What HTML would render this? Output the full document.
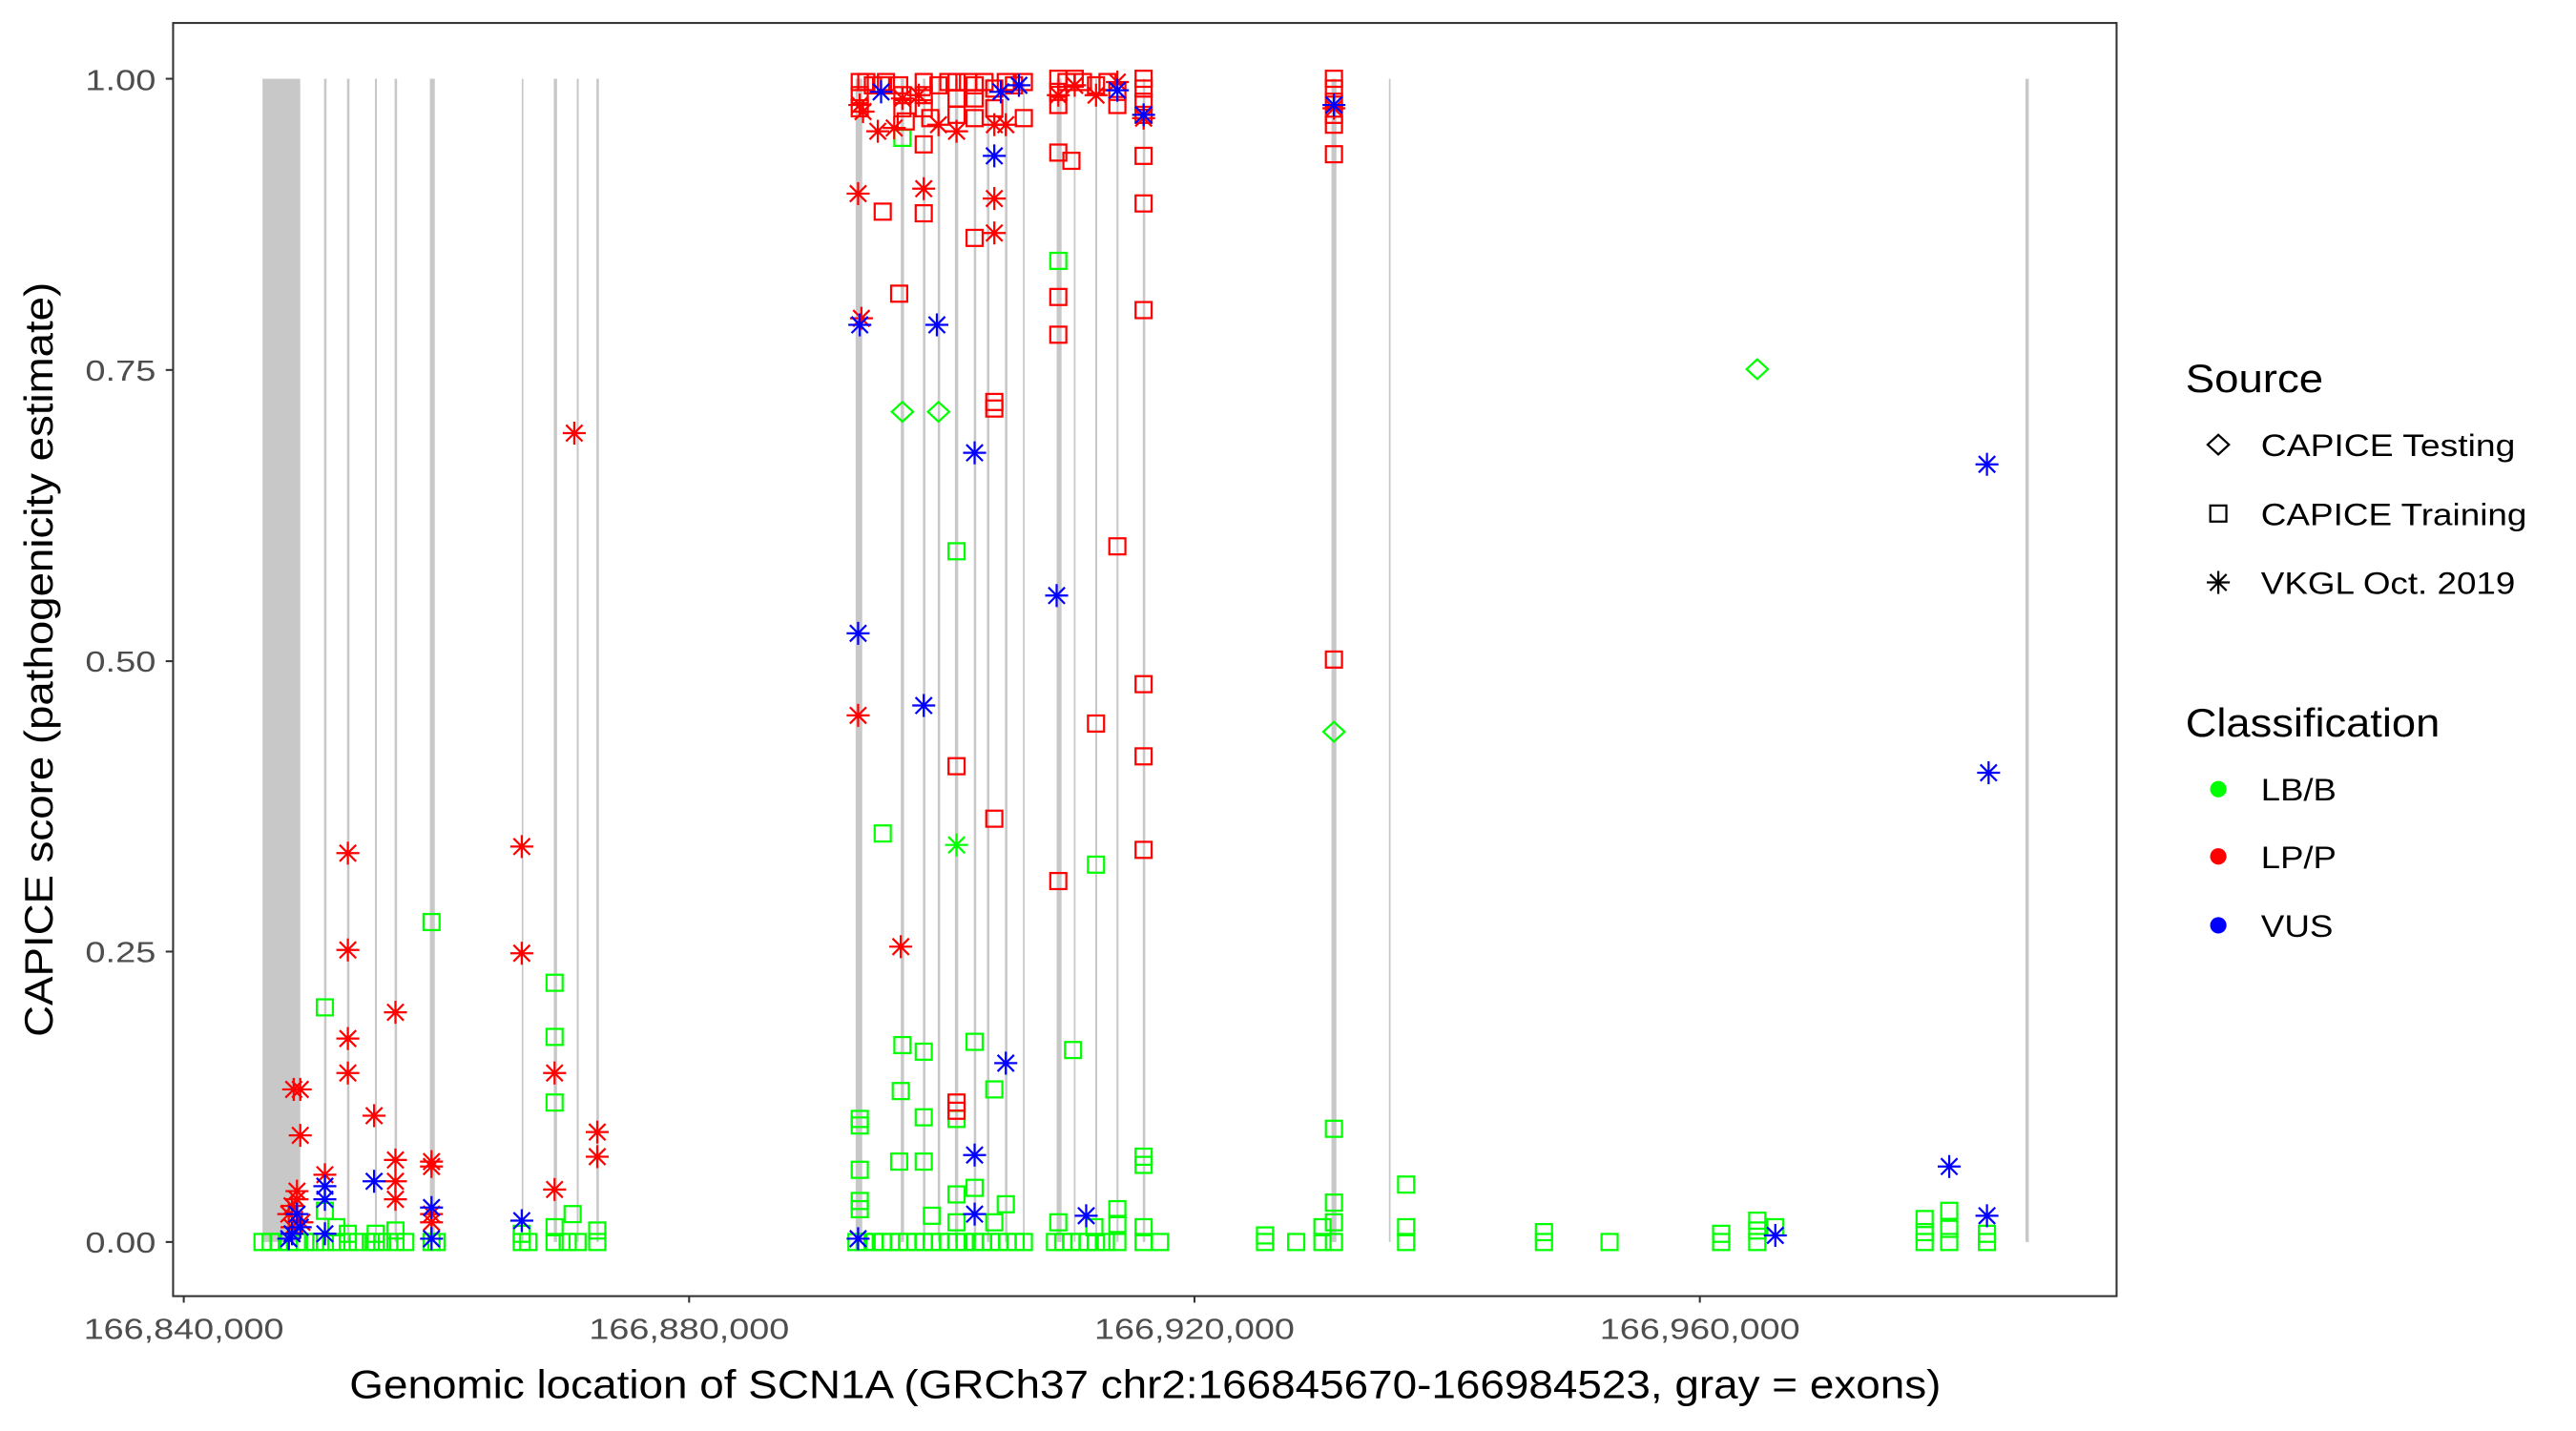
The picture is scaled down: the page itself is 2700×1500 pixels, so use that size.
<!DOCTYPE html>
<html><head><meta charset="utf-8"><style>
html,body{margin:0;padding:0;background:#fff}
svg{display:block}
text{font-family:"Liberation Sans",Arial,sans-serif}
</style></head><body>
<svg width="2700" height="1500" viewBox="0 0 1570 872.2" preserveAspectRatio="none" xmlns="http://www.w3.org/2000/svg">
<defs>
<rect id="s" x="-4.9" y="-4.9" width="9.8" height="9.8" fill="none" stroke="currentColor" stroke-width="1.3"/>
<g id="a" stroke="currentColor" stroke-width="1.3"><line x1="-7" y1="0" x2="7" y2="0"/><line x1="0" y1="-7" x2="0" y2="7"/><line x1="-5" y1="-5" x2="5" y2="5"/><line x1="-5" y1="5" x2="5" y2="-5"/></g>
<path id="d" d="M-6.5 0L0-6L6.5 0L0 6Z" fill="none" stroke="currentColor" stroke-width="1.3"/>
</defs>
<rect x="0" y="0" width="1570" height="872.2" fill="#fff"/>
<g fill="#c8c8c8">
<rect x="160" y="48" width="23" height="709"/>
<rect x="197.5" y="48" width="1.5" height="709"/>
<rect x="211.5" y="48" width="1.5" height="709"/>
<rect x="228.5" y="48" width="1.2" height="709"/>
<rect x="240.5" y="48" width="1.5" height="709"/>
<rect x="262" y="48" width="3" height="709"/>
<rect x="318" y="48" width="1" height="709"/>
<rect x="337.5" y="48" width="2" height="709"/>
<rect x="351.5" y="48" width="1.2" height="709"/>
<rect x="363.5" y="48" width="1.5" height="709"/>
<rect x="521.5" y="48" width="4" height="709"/>
<rect x="549" y="48" width="2" height="709"/>
<rect x="562.5" y="48" width="1.5" height="709"/>
<rect x="571.5" y="48" width="1.5" height="709"/>
<rect x="582" y="48" width="2" height="709"/>
<rect x="593.5" y="48" width="1.5" height="709"/>
<rect x="601.5" y="48" width="1.5" height="709"/>
<rect x="612.5" y="48" width="1.5" height="709"/>
<rect x="623.5" y="48" width="1" height="709"/>
<rect x="644" y="48" width="3" height="709"/>
<rect x="654.5" y="48" width="1" height="709"/>
<rect x="667.5" y="48" width="1.2" height="709"/>
<rect x="680.5" y="48" width="1.2" height="709"/>
<rect x="696.5" y="48" width="1.5" height="709"/>
<rect x="811.5" y="48" width="3" height="709"/>
<rect x="846.5" y="48" width="1" height="709"/>
<rect x="1234.5" y="48" width="2" height="709"/>
</g>
<g color="#00ff00">
<use href="#s" x="160" y="757"/><use href="#s" x="165" y="757"/><use href="#s" x="170" y="757"/><use href="#s" x="176" y="757"/><use href="#s" x="181" y="757"/><use href="#s" x="186" y="757"/><use href="#s" x="192" y="757"/><use href="#s" x="198" y="757"/><use href="#s" x="205" y="757"/><use href="#s" x="212" y="757"/><use href="#s" x="218" y="757"/><use href="#s" x="226" y="757"/><use href="#s" x="229" y="757"/><use href="#s" x="233" y="757"/><use href="#s" x="241" y="757"/><use href="#s" x="247" y="757"/><use href="#s" x="263" y="757"/><use href="#s" x="266" y="757"/><use href="#s" x="318" y="757"/><use href="#s" x="322" y="757"/><use href="#s" x="338" y="757"/><use href="#s" x="346" y="757"/><use href="#s" x="352" y="757"/><use href="#s" x="364" y="757"/>
<use href="#s" x="198" y="614"/><use href="#s" x="263" y="562"/><use href="#s" x="338" y="599"/><use href="#s" x="338" y="632"/><use href="#s" x="338" y="672"/><use href="#s" x="349" y="740"/><use href="#s" x="338" y="748"/><use href="#s" x="241" y="750"/><use href="#s" x="229" y="752"/><use href="#s" x="205" y="748"/><use href="#s" x="212" y="752"/><use href="#s" x="198" y="738"/><use href="#s" x="318" y="752"/><use href="#s" x="364" y="750"/>
<use href="#s" x="522" y="757"/><use href="#s" x="527" y="757"/><use href="#s" x="533" y="757"/><use href="#s" x="538" y="757"/><use href="#s" x="543" y="757"/><use href="#s" x="548" y="757"/><use href="#s" x="553" y="757"/><use href="#s" x="558" y="757"/><use href="#s" x="563" y="757"/><use href="#s" x="568" y="757"/><use href="#s" x="573" y="757"/><use href="#s" x="578" y="757"/><use href="#s" x="583" y="757"/><use href="#s" x="588" y="757"/><use href="#s" x="594" y="757"/><use href="#s" x="599" y="757"/><use href="#s" x="604" y="757"/><use href="#s" x="609" y="757"/><use href="#s" x="614" y="757"/><use href="#s" x="619" y="757"/><use href="#s" x="624" y="757"/><use href="#s" x="643" y="757"/><use href="#s" x="648" y="757"/><use href="#s" x="653" y="757"/><use href="#s" x="658" y="757"/><use href="#s" x="663" y="757"/><use href="#s" x="668" y="757"/><use href="#s" x="674" y="757"/><use href="#s" x="681" y="757"/><use href="#s" x="697" y="757"/><use href="#s" x="707" y="757"/>
<use href="#s" x="771" y="757"/><use href="#s" x="771" y="753"/><use href="#s" x="790" y="757"/><use href="#s" x="806" y="757"/><use href="#s" x="813" y="757"/><use href="#s" x="806" y="748"/><use href="#s" x="857" y="757"/><use href="#s" x="857" y="748"/><use href="#s" x="941" y="757"/><use href="#s" x="941" y="751"/><use href="#s" x="981" y="757"/><use href="#s" x="1049" y="757"/><use href="#s" x="1049" y="752"/><use href="#s" x="1071" y="757"/><use href="#s" x="1071" y="750"/><use href="#s" x="1071" y="744"/><use href="#s" x="1082" y="748"/><use href="#s" x="1173" y="757"/><use href="#s" x="1173" y="751"/><use href="#s" x="1173" y="743"/><use href="#s" x="1188" y="757"/><use href="#s" x="1188" y="749"/><use href="#s" x="1188" y="738"/><use href="#s" x="1211" y="757"/><use href="#s" x="1211" y="752"/>
<use href="#s" x="538" y="508"/><use href="#s" x="583" y="336"/><use href="#s" x="550" y="637"/><use href="#s" x="549" y="665"/><use href="#s" x="563" y="641"/><use href="#s" x="594" y="635"/><use href="#s" x="606" y="664"/><use href="#s" x="583" y="682"/><use href="#s" x="563" y="681"/><use href="#s" x="563" y="708"/><use href="#s" x="548" y="708"/><use href="#s" x="524" y="682"/><use href="#s" x="524" y="686"/><use href="#s" x="524" y="713"/><use href="#s" x="524" y="732"/><use href="#s" x="524" y="737"/><use href="#s" x="654" y="640"/><use href="#s" x="668" y="527"/><use href="#s" x="645" y="159"/><use href="#s" x="697" y="705"/><use href="#s" x="697" y="710"/><use href="#s" x="813" y="688"/><use href="#s" x="813" y="733"/><use href="#s" x="857" y="722"/><use href="#s" x="583" y="728"/><use href="#s" x="594" y="724"/><use href="#s" x="613" y="734"/><use href="#s" x="606" y="745"/><use href="#s" x="681" y="737"/><use href="#s" x="681" y="746"/><use href="#s" x="667" y="748"/><use href="#s" x="645" y="745"/><use href="#s" x="568" y="741"/><use href="#s" x="583" y="745"/><use href="#s" x="550" y="84"/><use href="#s" x="697" y="748"/><use href="#s" x="813" y="745"/>
<use href="#d" x="550" y="251"/><use href="#d" x="572" y="251"/><use href="#d" x="813" y="446"/><use href="#d" x="1071" y="225"/>
<use href="#a" x="583" y="515"/>
</g>
<g color="#ff0000">
<use href="#a" x="212" y="520"/><use href="#a" x="212" y="579"/><use href="#a" x="212" y="633"/><use href="#a" x="212" y="654"/><use href="#a" x="228" y="680"/><use href="#a" x="241" y="617"/><use href="#a" x="241" y="707"/><use href="#a" x="241" y="720"/><use href="#a" x="241" y="731"/><use href="#a" x="179" y="664"/><use href="#a" x="183" y="664"/><use href="#a" x="183" y="692"/><use href="#a" x="181" y="726"/><use href="#a" x="181" y="731"/><use href="#a" x="178" y="735"/><use href="#a" x="176" y="740"/><use href="#a" x="198" y="716"/><use href="#a" x="263" y="708"/><use href="#a" x="263" y="711"/><use href="#a" x="263" y="740"/><use href="#a" x="263" y="745"/><use href="#a" x="318" y="516"/><use href="#a" x="318" y="581"/><use href="#a" x="338" y="654"/><use href="#a" x="338" y="725"/><use href="#a" x="350" y="264"/><use href="#a" x="364" y="690"/><use href="#a" x="364" y="705"/><use href="#a" x="178" y="748"/><use href="#a" x="184" y="745"/>
<use href="#s" x="524" y="50"/><use href="#s" x="524" y="58"/><use href="#s" x="524" y="66"/><use href="#s" x="528" y="50"/><use href="#s" x="532" y="52"/><use href="#s" x="537" y="52"/><use href="#s" x="540" y="50"/><use href="#s" x="548" y="52"/><use href="#s" x="550" y="58"/><use href="#s" x="550" y="66"/><use href="#s" x="552" y="74"/><use href="#s" x="563" y="50"/><use href="#s" x="563" y="58"/><use href="#s" x="563" y="66"/><use href="#s" x="567" y="72"/><use href="#s" x="572" y="52"/><use href="#s" x="578" y="50"/><use href="#s" x="583" y="50"/><use href="#s" x="583" y="60"/><use href="#s" x="583" y="70"/><use href="#s" x="590" y="50"/><use href="#s" x="594" y="52"/><use href="#s" x="594" y="60"/><use href="#s" x="594" y="72"/><use href="#s" x="600" y="50"/><use href="#s" x="606" y="54"/><use href="#s" x="606" y="66"/><use href="#s" x="613" y="50"/><use href="#s" x="618" y="52"/><use href="#s" x="624" y="50"/><use href="#s" x="624" y="72"/><use href="#s" x="645" y="48"/><use href="#s" x="645" y="56"/><use href="#s" x="645" y="64"/><use href="#s" x="650" y="50"/><use href="#s" x="655" y="48"/><use href="#s" x="660" y="50"/><use href="#s" x="668" y="52"/><use href="#s" x="675" y="50"/><use href="#s" x="681" y="56"/><use href="#s" x="681" y="64"/><use href="#s" x="697" y="48"/><use href="#s" x="697" y="54"/><use href="#s" x="697" y="62"/><use href="#s" x="697" y="70"/><use href="#s" x="813" y="48"/><use href="#s" x="813" y="54"/><use href="#s" x="813" y="62"/><use href="#s" x="813" y="70"/><use href="#s" x="813" y="76"/>
<use href="#a" x="524" y="64"/><use href="#a" x="526" y="68"/><use href="#a" x="535" y="80"/><use href="#a" x="545" y="78"/><use href="#a" x="550" y="60"/><use href="#a" x="560" y="58"/><use href="#a" x="572" y="76"/><use href="#a" x="583" y="80"/><use href="#a" x="606" y="76"/><use href="#a" x="613" y="76"/><use href="#a" x="645" y="58"/><use href="#a" x="655" y="52"/><use href="#a" x="668" y="58"/><use href="#a" x="681" y="50"/><use href="#a" x="697" y="72"/><use href="#a" x="813" y="66"/>
<use href="#s" x="538" y="129"/><use href="#s" x="548" y="179"/><use href="#s" x="563" y="88"/><use href="#s" x="563" y="130"/><use href="#s" x="594" y="145"/><use href="#s" x="606" y="245"/><use href="#s" x="606" y="249"/><use href="#s" x="645" y="93"/><use href="#s" x="653" y="98"/><use href="#s" x="645" y="181"/><use href="#s" x="645" y="204"/><use href="#s" x="681" y="333"/><use href="#s" x="697" y="95"/><use href="#s" x="697" y="124"/><use href="#s" x="697" y="189"/><use href="#s" x="668" y="441"/><use href="#s" x="697" y="417"/><use href="#s" x="697" y="461"/><use href="#s" x="697" y="518"/><use href="#s" x="645" y="537"/><use href="#s" x="606" y="499"/><use href="#s" x="583" y="467"/><use href="#s" x="583" y="672"/><use href="#s" x="583" y="677"/><use href="#s" x="813" y="402"/><use href="#s" x="813" y="94"/>
<use href="#a" x="523" y="118"/><use href="#a" x="523" y="436"/><use href="#a" x="525" y="194"/><use href="#a" x="549" y="577"/><use href="#a" x="563" y="115"/><use href="#a" x="606" y="121"/><use href="#a" x="606" y="142"/>
</g>
<g color="#0000ff">
<use href="#a" x="176" y="755"/><use href="#a" x="181" y="740"/><use href="#a" x="183" y="748"/><use href="#a" x="198" y="723"/><use href="#a" x="198" y="731"/><use href="#a" x="198" y="752"/><use href="#a" x="228" y="720"/><use href="#a" x="263" y="736"/><use href="#a" x="263" y="755"/><use href="#a" x="318" y="744"/><use href="#a" x="178" y="752"/>
<use href="#a" x="523" y="386"/><use href="#a" x="524" y="198"/><use href="#a" x="537" y="56"/><use href="#a" x="563" y="430"/><use href="#a" x="571" y="198"/><use href="#a" x="594" y="276"/><use href="#a" x="606" y="95"/><use href="#a" x="610" y="56"/><use href="#a" x="621" y="52"/><use href="#a" x="644" y="363"/><use href="#a" x="681" y="55"/><use href="#a" x="697" y="70"/><use href="#a" x="813" y="64"/><use href="#a" x="594" y="704"/><use href="#a" x="594" y="740"/><use href="#a" x="613" y="648"/><use href="#a" x="662" y="741"/><use href="#a" x="523" y="755"/><use href="#a" x="1082" y="753"/><use href="#a" x="1188" y="711"/><use href="#a" x="1211" y="283"/><use href="#a" x="1212" y="471"/><use href="#a" x="1211" y="741"/>
</g>
<rect x="105.5" y="14" width="1184.5" height="776" fill="none" stroke="#333" stroke-width="1.2"/>
<g stroke="#333" stroke-width="1.2">
<line x1="101" y1="48" x2="105" y2="48"/><line x1="101" y1="225.5" x2="105" y2="225.5"/><line x1="101" y1="403" x2="105" y2="403"/><line x1="101" y1="580" x2="105" y2="580"/><line x1="101" y1="757" x2="105" y2="757"/>
<line x1="112" y1="790" x2="112" y2="794"/><line x1="420" y1="790" x2="420" y2="794"/><line x1="728" y1="790" x2="728" y2="794"/><line x1="1036" y1="790" x2="1036" y2="794"/>
</g>
<g fill="#4d4d4d" font-size="18" lengthAdjust="spacingAndGlyphs">
<text x="52" y="55" textLength="43" lengthAdjust="spacingAndGlyphs">1.00</text><text x="52" y="232" textLength="43" lengthAdjust="spacingAndGlyphs">0.75</text><text x="52" y="409.5" textLength="43" lengthAdjust="spacingAndGlyphs">0.50</text><text x="52" y="586.5" textLength="43" lengthAdjust="spacingAndGlyphs">0.25</text><text x="52" y="763.5" textLength="43" lengthAdjust="spacingAndGlyphs">0.00</text>
</g>
<g fill="#4d4d4d" font-size="18">
<text x="51" y="816" textLength="122" lengthAdjust="spacingAndGlyphs">166,840,000</text><text x="359" y="816" textLength="122" lengthAdjust="spacingAndGlyphs">166,880,000</text><text x="667" y="816" textLength="122" lengthAdjust="spacingAndGlyphs">166,920,000</text><text x="975" y="816" textLength="122" lengthAdjust="spacingAndGlyphs">166,960,000</text>
</g>
<text x="213" y="852" font-size="24" fill="#000" textLength="970" lengthAdjust="spacingAndGlyphs">Genomic location of SCN1A (GRCh37 chr2:166845670-166984523, gray = exons)</text>
<text transform="translate(32,632) rotate(-90)" font-size="24" fill="#000" textLength="460" lengthAdjust="spacingAndGlyphs">CAPICE score (pathogenicity estimate)</text>
<text x="1332" y="239" font-size="24" fill="#000" textLength="84" lengthAdjust="spacingAndGlyphs">Source</text>
<g color="#000"><use href="#d" x="1352" y="271"/><use href="#s" x="1352" y="313"/><use href="#a" x="1352" y="355"/></g>
<g font-size="19" fill="#000">
<text x="1378" y="278" textLength="155" lengthAdjust="spacingAndGlyphs">CAPICE Testing</text><text x="1378" y="320" textLength="162" lengthAdjust="spacingAndGlyphs">CAPICE Training</text><text x="1378" y="362" textLength="155" lengthAdjust="spacingAndGlyphs">VKGL Oct. 2019</text>
</g>
<text x="1332" y="449" font-size="24" fill="#000" textLength="155" lengthAdjust="spacingAndGlyphs">Classification</text>
<circle cx="1352" cy="481" r="5" fill="#00ff00"/><circle cx="1352" cy="522" r="5" fill="#ff0000"/><circle cx="1352" cy="564" r="5" fill="#0000ff"/>
<g font-size="19" fill="#000">
<text x="1378" y="488" textLength="46" lengthAdjust="spacingAndGlyphs">LB/B</text><text x="1378" y="529" textLength="46" lengthAdjust="spacingAndGlyphs">LP/P</text><text x="1378" y="571" textLength="44" lengthAdjust="spacingAndGlyphs">VUS</text>
</g>
</svg>
</body></html>
